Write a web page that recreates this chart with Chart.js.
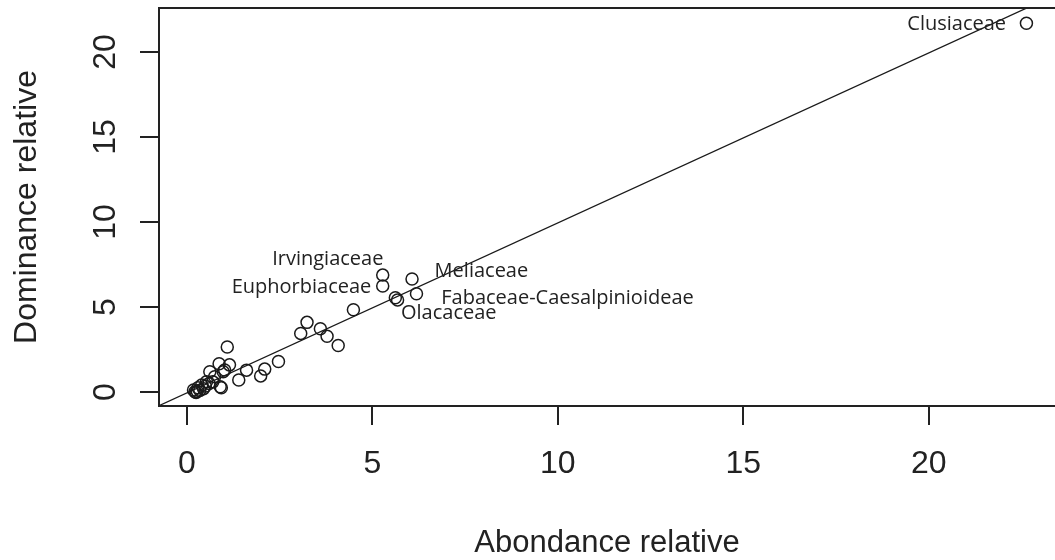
<!DOCTYPE html>
<html>
<head>
<meta charset="utf-8">
<script src="https://cdn.jsdelivr.net/npm/chart.js@4.4.0/dist/chart.umd.min.js"></script>
<style>
  html, body { margin: 0; padding: 0; background: #fff; overflow: hidden; }
  #wrap { width: 1055px; height: 560px; position: relative; }
</style>
</head>
<body>
<div id="wrap"><canvas id="c" width="1055" height="560"></canvas></div>
<script>
// Relative abundance (x) and relative dominance (y) per family, in %
const abondance = [22.63, 5.28, 5.28, 6.07, 6.19, 5.62, 5.68, 4.49, 3.24, 3.07,
                   3.60, 3.78, 4.08, 2.47, 2.10, 1.99, 1.61, 1.40, 1.09, 1.15,
                   0.87, 1.02, 0.62, 0.98, 0.75, 0.90, 0.93, 0.53, 0.40, 0.45,
                   0.35, 0.28, 0.22, 0.18, 0.30, 0.50, 0.25, 0.60, 0.70];
const dominance = [21.69, 6.88, 6.24, 6.65, 5.78, 5.55, 5.42, 4.84, 4.10, 3.45,
                   3.72, 3.28, 2.74, 1.80, 1.35, 0.95, 1.29, 0.71, 2.65, 1.60,
                   1.66, 1.30, 1.20, 1.19, 0.90, 0.31, 0.25, 0.61, 0.41, 0.20,
                   0.10, 0.05, 0.02, 0.12, 0.25, 0.35, -0.02, 0.50, 0.60];

// Family names written next to the main points (text anchors in data units)
const labelNames = ['Clusiaceae', 'Irvingiaceae', 'Euphorbiaceae', 'Meliaceae',
                    'Fabaceae-Caesalpinioideae', 'Olacaceae'];
const labelX = [20.75, 3.80, 3.09, 7.94, 10.26, 7.06];
const labelY = [21.69, 7.88, 6.22, 7.15, 5.60, 4.72];

// Axis ticks and visible ranges
const xTicks = [0, 5, 10, 15, 20];
const yTicks = [0, 5, 10, 15, 20];
const xRange = [-0.75, 23.40];
const yRange = [-0.82, 22.59];

// Fitted line y = a + b x
const fitIntercept = -0.05;
const fitSlope = 1.0;

const points = abondance.map((x, i) => ({ x: x, y: dominance[i] }));
const fitLine = xRange.map(x => ({ x: x, y: fitIntercept + fitSlope * x }));

const INK = '#1a1a1a';
const AXIS_FONT = '"Liberation Sans", Arial, sans-serif';

const frameAndText = {
  id: 'frameAndText',
  afterDraw(chart) {
    const { ctx, chartArea: a, scales: { x, y } } = chart;
    ctx.save();
    // box around the plotting region (its right side runs past the page edge)
    ctx.strokeStyle = '#222';
    ctx.lineWidth = 2;
    ctx.beginPath();
    ctx.moveTo(a.right + 10, a.top);
    ctx.lineTo(a.left, a.top);
    ctx.lineTo(a.left, a.bottom);
    ctx.lineTo(a.right + 10, a.bottom);
    ctx.stroke();

    // y tick labels, written parallel to the axis
    ctx.fillStyle = '#222';
    ctx.font = '32px ' + AXIS_FONT;
    ctx.textAlign = 'center';
    ctx.textBaseline = 'alphabetic';
    yTicks.forEach(v => {
      const py = y.getPixelForValue(v);
      ctx.save();
      ctx.translate(115, py);
      ctx.rotate(-Math.PI / 2);
      ctx.fillText(String(v), 0, 0);
      ctx.restore();
    });

    // family labels
    ctx.font = '20px "Open Sans", "DejaVu Sans", sans-serif';
    ctx.fillStyle = '#222';
    labelNames.forEach((name, i) => {
      const px = x.getPixelForValue(labelX[i]);
      const py = y.getPixelForValue(labelY[i]);
      ctx.fillText(name, px, py + 7);
    });
    ctx.restore();
  }
};

new Chart(document.getElementById('c'), {
  type: 'scatter',
  data: {
    datasets: [
      {
        type: 'line',
        data: fitLine,
        showLine: true,
        borderColor: INK,
        borderWidth: 1.3,
        pointRadius: 0,
        fill: false,
        tension: 0
      },
      {
        data: points,
        pointStyle: 'circle',
        pointRadius: 6,
        pointHoverRadius: 6,
        pointBorderWidth: 1.5,
        borderColor: INK,
        backgroundColor: 'rgba(0,0,0,0)'
      }
    ]
  },
  options: {
    responsive: false,
    animation: false,
    events: [],
    layout: { autoPadding: false, padding: { top: 8, right: 0, bottom: 0, left: 0 } },
    plugins: { legend: { display: false }, tooltip: { enabled: false } },
    scales: {
      x: {
        type: 'linear',
        min: xRange[0],
        max: xRange[1],
        afterFit(s) { s.height = 154; s.paddingLeft = 0; s.paddingRight = 0; },
        afterBuildTicks(s) { s.ticks = xTicks.map(v => ({ value: v })); },
        grid: { drawOnChartArea: false, drawTicks: true, tickLength: 19, lineWidth: 2, color: '#222' },
        border: { display: false },
        ticks: {
          font: { family: AXIS_FONT, size: 32, lineHeight: 1 },
          color: '#222',
          padding: 23,
          maxRotation: 0,
          autoSkip: false
        },
        title: {
          display: true,
          text: 'Abondance relative',
          font: { family: AXIS_FONT, size: 31, lineHeight: 1 },
          color: '#222',
          padding: { top: 0, bottom: 1.5 }
        }
      },
      y: {
        type: 'linear',
        min: yRange[0],
        max: yRange[1],
        afterFit(s) { s.width = 159; s.paddingTop = 0; s.paddingBottom = 0; },
        afterBuildTicks(s) { s.ticks = yTicks.map(v => ({ value: v })); },
        grid: { drawOnChartArea: false, drawTicks: true, tickLength: 19, lineWidth: 2, color: '#222' },
        border: { display: false },
        ticks: { display: false },
        title: {
          display: true,
          text: 'Dominance relative',
          font: { family: AXIS_FONT, size: 32, lineHeight: 1 },
          color: '#222',
          padding: { top: 11, bottom: 0 }
        }
      }
    }
  },
  plugins: [frameAndText]
});
</script>
</body>
</html>
